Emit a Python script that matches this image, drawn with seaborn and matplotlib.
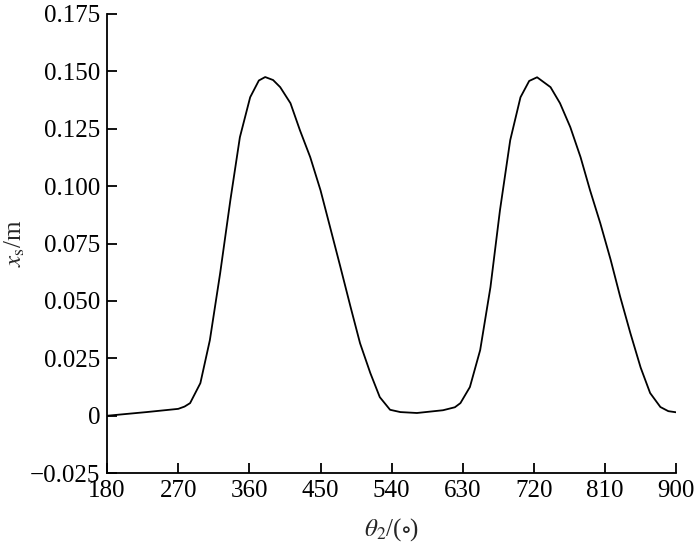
import matplotlib
matplotlib.use("Agg")
import matplotlib.pyplot as plt
import seaborn as sns
import pandas as pd

theta = [180, 230, 270, 278, 285, 298, 310, 323, 336, 348, 361, 372, 380, 390, 399,
         412, 424, 437, 450, 462, 475, 488, 500, 513, 525, 538, 551, 572, 605, 620,
         627, 639, 652, 665, 677, 690, 703, 714, 724, 741, 753, 766, 779, 791, 804,
         817, 829, 842, 855, 867, 880, 890, 900]
xs = [0.0, 0.0016, 0.0030, 0.0040, 0.0055, 0.0142, 0.0329, 0.0620, 0.0940, 0.1213,
      0.1387, 0.1460, 0.1475, 0.1462, 0.1431, 0.1361, 0.1243, 0.1126, 0.0982, 0.0823,
      0.0650, 0.0474, 0.0316, 0.0186, 0.0081, 0.0026, 0.0016, 0.0012, 0.0024,
      0.0037, 0.0055, 0.0125, 0.0286, 0.0560, 0.0894, 0.1200, 0.1387, 0.1458, 0.1474,
      0.1431, 0.1361, 0.1257, 0.1126, 0.0982, 0.0838, 0.0680, 0.0520, 0.0360, 0.0210,
      0.0099, 0.0038, 0.0020, 0.0015]

xticks = [180, 270, 360, 450, 540, 630, 720, 810, 900]
yticks = [-0.025, 0, 0.025, 0.05, 0.075, 0.1, 0.125, 0.15, 0.175]
ytick_labels = ["\u22120.025", "0", "0.025", "0.050", "0.075", "0.100", "0.125", "0.150", "0.175"]

sns.set_theme(style="ticks")
plt.rcParams['font.family'] = ['Liberation Serif', 'DejaVu Serif']
plt.rcParams['mathtext.fontset'] = 'stix'

df = pd.DataFrame({"theta": theta, "xs": xs})
fig = plt.figure(figsize=(7, 5.56), dpi=100)
ax = fig.add_axes([0.153, 0.149, 0.813, 0.826])
sns.lineplot(data=df, x="theta", y="xs", ax=ax, color="black", linewidth=1.3)

ax.set_xlim(180, 900)
ax.set_ylim(-0.025, 0.175)
ax.set_xticks(xticks)
ax.set_xticklabels([str(t) for t in xticks])
ax.set_yticks(yticks)
ax.set_yticklabels(ytick_labels)
ax.tick_params(direction="in", length=7, width=1.3, labelsize=18, colors="black", pad=5)
for s in ["top", "right"]:
    ax.spines[s].set_visible(False)
for s in ["left", "bottom"]:
    ax.spines[s].set_linewidth(1.3)
    ax.spines[s].set_color("black")
ax.set_xlabel(r"$\theta_2$/($\circ$)", fontsize=18, labelpad=10)
ax.set_ylabel(r"$x_{\rm s}$/m", fontsize=18, labelpad=2)
fig.savefig("out.png", dpi=100)
